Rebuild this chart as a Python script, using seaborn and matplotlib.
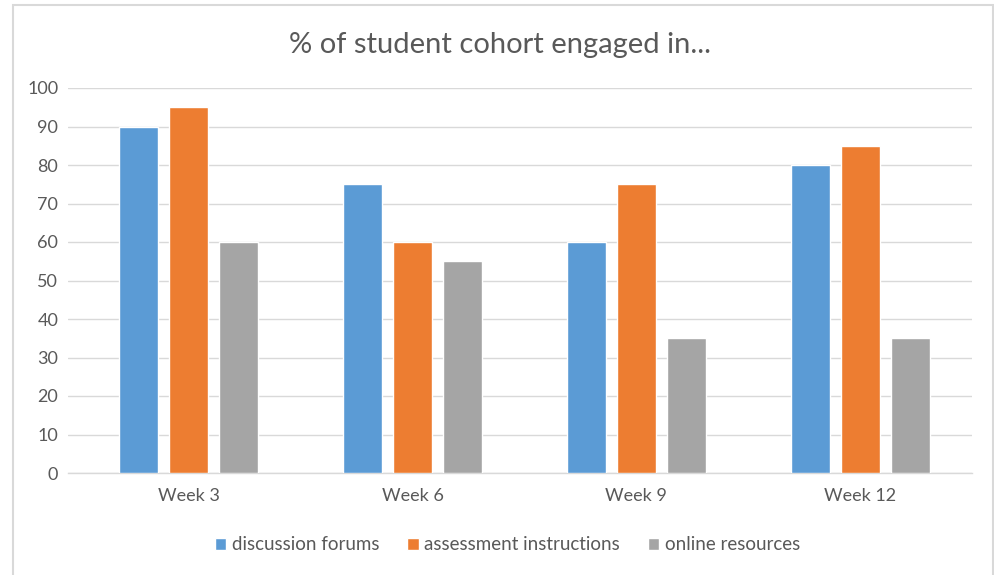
import pandas as pd
import matplotlib.pyplot as plt
import seaborn as sns
from matplotlib.patches import Rectangle

# data
weeks = ['Week 3', 'Week 6', 'Week 9', 'Week 12']
discussion_forums = [90, 75, 60, 80]
assessment_instructions = [95, 60, 75, 85]
online_resources = [60, 55, 35, 35]

series_names = ['discussion forums', 'assessment instructions', 'online resources']
colors = ['#5B9BD5', '#ED7D31', '#A5A5A5']

df = pd.DataFrame({
    'week': weeks * 3,
    'value': discussion_forums + assessment_instructions + online_resources,
    'series': [s for s in series_names for _ in weeks],
})

sns.set_style('white')
plt.rcParams['font.family'] = ['Lato', 'DejaVu Sans']
text_col = '#595959'

fig = plt.figure(figsize=(9.95, 5.75), dpi=100)
ax = fig.add_axes([68 / 995, (575 - 473) / 575, (972 - 68) / 995, (473 - 88) / 575])

sns.barplot(data=df, x='week', y='value', hue='series', palette=colors,
            width=0.67, gap=0.22, saturation=1, legend=True, ax=ax, zorder=3)

ax.set_ylim(0, 100)
ax.set_xlim(-0.54, 3.5)
ax.set_yticks(range(0, 101, 10))
ax.yaxis.grid(True, color='#D9D9D9', linewidth=1, zorder=0)
ax.set_axisbelow(True)
for side in ['top', 'right', 'left']:
    ax.spines[side].set_visible(False)
ax.spines['bottom'].set_color('#D9D9D9')
ax.spines['bottom'].set_linewidth(1)
ax.tick_params(axis='both', length=0, labelsize=13, colors=text_col)
ax.tick_params(axis='x', pad=11)
ax.tick_params(axis='y', pad=7)
ax.set_xlabel('')
ax.set_ylabel('')

handles, labels = ax.get_legend_handles_labels()
ax.get_legend().remove()
fig.legend(handles, labels, loc='center', bbox_to_anchor=(0.51, 1 - 545 / 575),
           ncol=3, frameon=False, fontsize=13.5, labelcolor=text_col,
           handlelength=0.6, handleheight=0.6, handletextpad=0.3, columnspacing=1.5)

fig.text(0.503, 1 - 45 / 575, '% of student cohort engaged in...', ha='center', va='center',
         fontsize=21, color=text_col)

# light chart border
fig.patches.append(Rectangle((13 / 995, -0.01), (993 - 13) / 995, 1 - 5 / 575 + 0.01,
                             transform=fig.transFigure, fill=False,
                             edgecolor='#D9D9D9', linewidth=1.5))

fig.savefig('out.png', dpi=100)
